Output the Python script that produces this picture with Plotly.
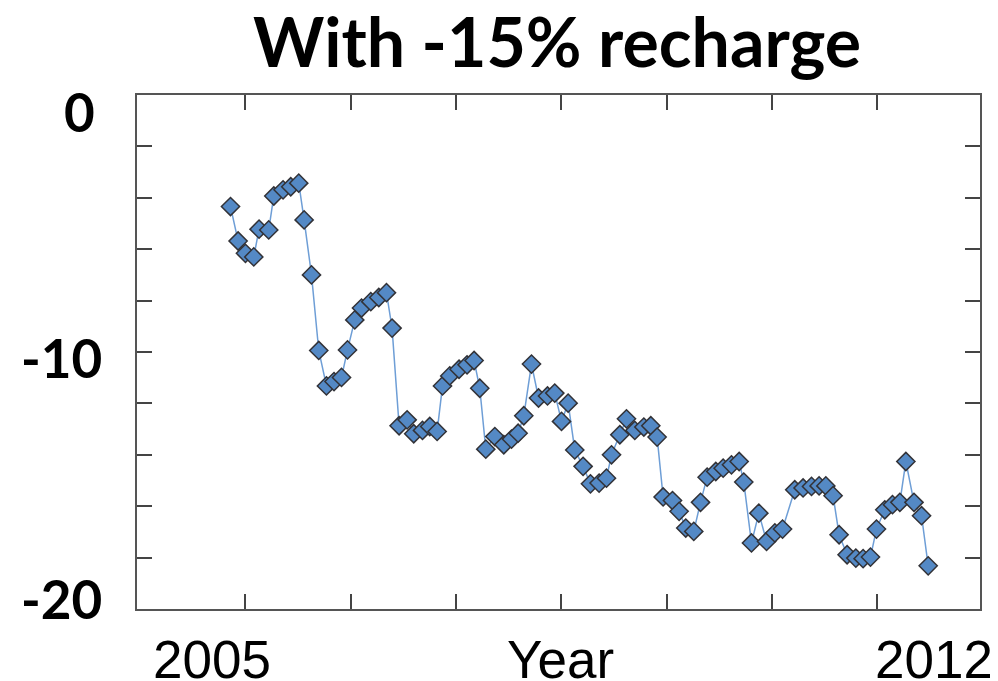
import plotly.graph_objects as go

# Decimal-year positions of each observation
years = [2004.858, 2004.930, 2005.000, 2005.079, 2005.129, 2005.221, 2005.269, 2005.357, 2005.430, 2005.506,
         2005.557, 2005.627, 2005.696, 2005.769, 2005.841, 2005.912, 2005.969, 2006.038, 2006.102, 2006.190,
         2006.266, 2006.339, 2006.392, 2006.459, 2006.535, 2006.598, 2006.681, 2006.750, 2006.820, 2006.871,
         2006.940, 2007.028, 2007.104, 2007.171, 2007.225, 2007.282, 2007.368, 2007.453, 2007.526, 2007.589,
         2007.643, 2007.716, 2007.783, 2007.868, 2007.937, 2008.001, 2008.064, 2008.127, 2008.206, 2008.276,
         2008.358, 2008.428, 2008.476, 2008.555, 2008.618, 2008.697, 2008.783, 2008.849, 2008.909, 2008.966,
         2009.055, 2009.118, 2009.181, 2009.257, 2009.321, 2009.384, 2009.466, 2009.536, 2009.615, 2009.688,
         2009.732, 2009.805, 2009.875, 2009.948, 2010.027, 2010.100, 2010.216, 2010.295, 2010.375, 2010.447,
         2010.511, 2010.580, 2010.637, 2010.713, 2010.796, 2010.865, 2010.935, 2010.992, 2011.071, 2011.144,
         2011.214, 2011.271, 2011.348, 2011.420, 2011.483]

# Water level change values
values = [-4.34, -5.68, -6.16, -6.30, -5.22, -5.25, -3.93, -3.69, -3.57, -3.43,
          -4.86, -7.00, -9.94, -11.32, -11.15, -10.99, -9.92, -8.75, -8.29, -8.04,
          -7.88, -7.69, -9.07, -12.87, -12.64, -13.18, -13.05, -12.90, -13.09, -11.32,
          -10.93, -10.67, -10.50, -10.33, -11.41, -13.78, -13.29, -13.61, -13.39, -13.16,
          -12.48, -10.47, -11.79, -11.71, -11.60, -12.70, -11.99, -13.81, -14.45, -15.13,
          -15.10, -14.91, -14.00, -13.22, -12.60, -13.05, -12.92, -12.87, -13.31, -15.64,
          -15.78, -16.20, -16.85, -16.98, -15.85, -14.87, -14.65, -14.52, -14.39, -14.26,
          -15.06, -17.43, -16.27, -17.37, -17.04, -16.89, -15.36, -15.29, -15.23, -15.21,
          -15.21, -15.59, -17.11, -17.89, -18.02, -18.04, -17.98, -16.89, -16.14, -15.94,
          -15.85, -14.26, -15.85, -16.37, -18.32]

title_text = "With -15% recharge"
y_labels = ["0", "-10", "-20"]
x_labels = ["2005", "Year", "2012"]

fig = go.Figure()
fig.add_trace(go.Scatter(
    x=years, y=values, mode="lines+markers",
    line=dict(color="rgb(110,158,214)", width=1.5),
    marker=dict(symbol="diamond", size=14, color="rgb(84,137,197)",
                line=dict(color="rgb(50,50,55)", width=1.5)),
    showlegend=False,
))

axis_common = dict(showline=True, linecolor="#555555", linewidth=2, mirror="allticks",
                   ticks="inside", ticklen=15, tickwidth=2, tickcolor="#444444",
                   showgrid=False, zeroline=False, showticklabels=False)

fig.update_xaxes(range=[2003.97, 2011.975], tickmode="array",
                 tickvals=[2005, 2006, 2007, 2008, 2009, 2010, 2011], **axis_common)
fig.update_yaxes(range=[-20, 0], tickmode="linear", tick0=0, dtick=2, **axis_common)

annotations = [
    dict(text=f"<b>{title_text}</b>", x=0.4988, y=1.106, xref="paper", yref="paper",
         xanchor="center", yanchor="middle", showarrow=False,
         font=dict(family="Lato", size=68, color="black")),
]
for lab, (xp, yp) in zip(y_labels, [(-0.0688, 0.967), (-0.089, 0.490), (-0.089, 0.0214)]):
    annotations.append(dict(text=f"<b>{lab}</b>", x=xp, y=yp, xref="paper", yref="paper",
                            xanchor="center", yanchor="middle", showarrow=False,
                            font=dict(family="Lato", size=53, color="black")))
for lab, xp in zip(x_labels, [0.089, 0.502, 0.945]):
    annotations.append(dict(text=lab, x=xp, y=-0.0973, xref="paper", yref="paper",
                            xanchor="center", yanchor="middle", showarrow=False,
                            font=dict(family="Liberation Sans", size=53, color="black")))

# page body has an 8px margin, so the figure is sized to fit the 998x681 window
fig.update_layout(
    width=990, height=673,
    margin=dict(l=129, r=18, t=87, b=72),
    paper_bgcolor="white", plot_bgcolor="white",
    annotations=annotations,
)

fig.write_html("out.html")
